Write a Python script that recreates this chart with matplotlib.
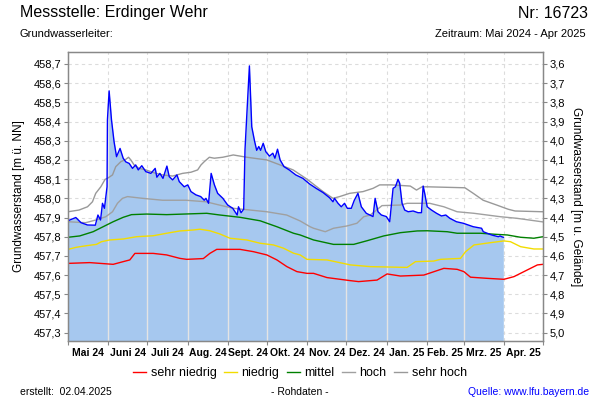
import numpy as np
import pandas as pd
import matplotlib
matplotlib.use("Agg")
import matplotlib.pyplot as plt
import matplotlib.dates as mdates
from matplotlib.ticker import FixedLocator, FuncFormatter

plt.rcParams['font.family'] = ['Liberation Sans', 'DejaVu Sans']

# ---------------- data (days after 2024-05-01, level in m ü. NN) ----------------
start_date = "2024-05-01"

obs_days = [0, 6, 10, 15, 21, 23, 25, 26.5, 28, 30, 30.3, 31.6, 33.4, 35.4, 37.3, 40, 42.4, 44.4,
            47, 49.6, 52, 54, 56.7, 59.8, 63.7, 67, 68.3, 70.6, 73, 76, 77.8, 80.4, 83.7, 85.5,
            89.3, 92, 94.5, 98.3, 102, 104.7, 106, 108, 110, 112.5, 115, 119, 122.7, 126.6, 130,
            131, 133, 135, 136, 137.4, 139.4, 141.2, 143.3, 145, 146.6, 148, 150, 152, 154.8,
            157.4, 159, 161, 163, 166, 170, 175, 180.5, 185.6, 190.7, 196, 201, 203.6, 204.8,
            207.5, 210, 212.5, 214.6, 217.7, 220, 222.8, 225.4, 229.2, 234.4, 236, 238.2, 240.8,
            244.6, 247.2, 249.8, 251.6, 253.6, 254.9, 256.7, 258.7, 261.4, 265.2, 269, 271.6,
            272.9, 274.1, 276, 279.3, 283.2, 287, 290.3, 293.4, 298.5, 303.7, 311.4, 317.8,
            319.1, 325.5, 330.7, 332, 333.2, 334.5]
obs_vals = [457.883, 457.90, 457.873, 457.861, 457.86, 457.913, 457.887, 457.974, 457.948, 458.06,
            458.408, 458.56, 458.41, 458.295, 458.217, 458.26, 458.209, 458.19, 458.182, 458.156,
            458.174, 458.148, 458.17, 458.139, 458.13, 458.156, 458.11, 458.13, 458.104, 458.168,
            458.113, 458.096, 458.122, 458.087, 458.06, 458.07, 458.035, 458.018, 458.009, 457.99,
            458.0, 457.974, 458.13, 458.07, 458.026, 458.0, 457.965, 457.948, 457.913, 457.956,
            457.925, 457.943, 458.252, 458.434, 458.69, 458.373, 458.30, 458.25, 458.27, 458.25,
            458.287, 458.243, 458.22, 458.235, 458.209, 458.256, 458.2, 458.165, 458.148, 458.122,
            458.104, 458.075, 458.052, 458.03, 458.003, 457.982, 458.0, 457.974, 457.956, 457.974,
            457.948, 457.948, 457.99, 458.026, 457.956, 457.922, 457.905, 458.0, 457.93, 457.913,
            457.905, 457.878, 458.052, 458.06, 458.099, 458.078, 457.974, 457.939, 457.93, 457.934,
            457.925, 457.925, 458.064, 458.026, 457.956, 457.939, 457.922, 457.908, 457.913,
            457.896, 457.878, 457.87, 457.852, 457.844, 457.826, 457.809, 457.8, 457.804, 457.8,
            457.797]

sehr_hoch_days = [0, 8.5, 15, 18.8, 21.3, 25.2, 28.5, 30.3, 34.2, 36.7, 40.6, 44.4, 46.5, 48.3,
                  50.8, 54.7, 59.8, 67.5, 72.7, 80.4, 88, 94.5, 99.6, 102.2, 104.7, 108.6, 112.4,
                  118.9, 127, 137.4, 152.8, 163, 173, 183.6, 196, 203.6, 208.7, 216.4, 226.7,
                  234.4, 239.5, 248.5, 263, 267.8, 272, 276, 305, 311.4, 319, 329.4, 338.3, 343.5, 365]
sehr_hoch_vals = [457.93, 457.939, 457.956, 457.982, 458.026, 458.06, 458.099, 458.104, 458.122,
                  458.165, 458.191, 458.203, 458.214, 458.2, 458.174, 458.156, 458.148, 458.13,
                  458.122, 458.116, 458.13, 458.136, 458.148, 458.174, 458.191, 458.214, 458.209,
                  458.214, 458.226, 458.214, 458.2, 458.174, 458.148, 458.10, 458.035, 458.0,
                  458.009, 458.026, 458.035, 458.052, 458.07, 458.07, 458.064, 458.043, 458.06,
                  458.06, 458.055, 458.026, 457.99, 457.965, 457.943, 457.934, 457.93]

hoch_days = [0, 13.6, 21.3, 29, 34.2, 38, 41.9, 45.7, 57.3, 72.7, 90.6, 106, 116.3, 127, 152.8,
             168, 178.4, 186, 188.7, 197.7, 204, 214.4, 222, 227.2, 232.3, 241.3, 255.4, 260.6,
             278, 288.8, 299, 311.9, 332.4, 344.8, 365]
hoch_vals = [457.878, 457.873, 457.887, 457.904, 457.93, 457.974, 458.0, 458.009, 458.0, 457.99,
             457.99, 457.982, 457.965, 457.948, 457.93, 457.913, 457.882, 457.852, 457.844,
             457.826, 457.844, 457.856, 457.87, 457.904, 457.913, 457.962, 457.965, 457.974,
             457.974, 457.956, 457.93, 457.922, 457.904, 457.896, 457.877]

mittel_days = [0, 9, 19.3, 27, 34.7, 42.4, 48.8, 60.4, 75.8, 106.6, 116.8, 132.2, 147.6, 160.5,
               173.3, 178.4, 188.7, 204, 219.5, 229.8, 242.6, 255.4, 268.3, 276, 291.4, 299, 317,
               327.3, 337.6, 347.8, 358, 365]
mittel_vals = [457.797, 457.804, 457.826, 457.852, 457.878, 457.901, 457.915, 457.918, 457.915,
               457.922, 457.913, 457.901, 457.883, 457.852, 457.818, 457.809, 457.783, 457.76,
               457.76, 457.779, 457.804, 457.821, 457.83, 457.831, 457.826, 457.818, 457.818,
               457.813, 457.809, 457.797, 457.792, 457.8]

niedrig_days = [0, 6.5, 14, 21.9, 25.7, 32, 42.4, 52.7, 65.5, 75.8, 86, 96.3, 101.4, 109, 116.8,
                124.5, 137.4, 147.6, 157.9, 165.6, 173.3, 178.4, 183.6, 199, 217, 232.3, 260.6,
                267, 281, 286.2, 301.6, 305.5, 312, 324.7, 335, 340, 347.8, 358, 365]
niedrig_vals = [457.734, 457.745, 457.753, 457.76, 457.774, 457.783, 457.788, 457.8, 457.805,
                457.818, 457.83, 457.835, 457.839, 457.831, 457.814, 457.792, 457.783, 457.766,
                457.757, 457.74, 457.714, 457.705, 457.682, 457.679, 457.653, 457.644, 457.64,
                457.67, 457.673, 457.682, 457.687, 457.722, 457.757, 457.769, 457.778, 457.774,
                457.748, 457.736, 457.736]

sehr_niedrig_days = [0, 16.7, 34.7, 42.4, 47.5, 51.4, 65.5, 75.8, 86, 91.2, 104, 109, 114.3, 132.2,
                     142.5, 152.8, 160.5, 168.2, 175.9, 183.6, 188.7, 199, 217, 223.3, 237.5,
                     245.2, 255.4, 273.4, 288.8, 299, 304.2, 309.3, 322.2, 335, 342.7, 353, 360.7, 365]
sehr_niedrig_vals = [457.661, 457.665, 457.656, 457.67, 457.679, 457.713, 457.713, 457.705,
                     457.687, 457.682, 457.686, 457.713, 457.734, 457.734, 457.722, 457.705,
                     457.679, 457.644, 457.618, 457.609, 457.609, 457.587, 457.571, 457.566,
                     457.574, 457.606, 457.595, 457.6, 457.635, 457.63, 457.618, 457.589,
                     457.583, 457.578, 457.592, 457.627, 457.653, 457.656]

month_labels = ["Mai 24", "Juni 24", "Juli 24", "Aug. 24", "Sept. 24", "Okt. 24", "Nov. 24",
                "Dez. 24", "Jan. 25", "Feb. 25", "Mrz. 25", "Apr. 25"]
left_ticks = [457.3, 457.4, 457.5, 457.6, 457.7, 457.8, 457.9, 458.0, 458.1, 458.2, 458.3,
              458.4, 458.5, 458.6, 458.7]
right_ticks = [3.6, 3.7, 3.8, 3.9, 4.0, 4.1, 4.2, 4.3, 4.4, 4.5, 4.6, 4.7, 4.8, 4.9, 5.0]
ground_level = 462.3  # m ü. NN  (m u. Gelände = ground_level - level)

# ---------------- helpers ----------------
base = pd.Timestamp(start_date)
def to_dates(days):
    return mdates.date2num(base + pd.to_timedelta(np.asarray(days, dtype=float), unit="D"))

# ---------------- figure ----------------
fig = plt.figure(figsize=(6, 4), dpi=100)
ax = fig.add_axes([68 / 600, 1 - 341 / 400, (543 - 68) / 600, (341 - 52) / 400])

ymin, ymax = 457.2565, 458.7625
month_starts = pd.date_range("2024-05-01", "2025-05-01", freq="MS")
ms_num = mdates.date2num(month_starts)
mid_num = (ms_num[:-1] + ms_num[1:]) / 2

ax.set_xlim(ms_num[0], ms_num[-1])
ax.set_ylim(ymin, ymax)

grid_col = "#dcdcdc"
for t in left_ticks:
    ax.axhline(t, color=grid_col, lw=0.8, ls=(0, (3, 3)), zorder=0)
for m in ms_num[1:-1]:
    ax.axvline(m, color=grid_col, lw=0.8, ls=(0, (3, 3)), zorder=0)

ox = to_dates(obs_days)
ax.fill_between(ox, ymin, obs_vals, color="#a6c8ef", lw=0, zorder=1)
# light vertical month separators over the filled area
for m in ms_num[1:-1]:
    if ox[0] <= m <= ox[-1]:
        top = np.interp(m, ox, obs_vals)
        ax.plot([m, m], [ymin, top], color="#e4e4e4", lw=1.0, zorder=1.5)

ax.plot(to_dates(sehr_niedrig_days), sehr_niedrig_vals, color="#ff0000", lw=1.0, zorder=2, label="sehr niedrig")
ax.plot(to_dates(niedrig_days), niedrig_vals, color="#f2dc00", lw=1.0, zorder=2, label="niedrig")
ax.plot(to_dates(mittel_days), mittel_vals, color="#008000", lw=1.0, zorder=2, label="mittel")
ax.plot(to_dates(hoch_days), hoch_vals, color="#a0a0a0", lw=1.0, zorder=2, label="hoch")
ax.plot(to_dates(sehr_hoch_days), sehr_hoch_vals, color="#999999", lw=1.0, zorder=2, label="sehr hoch")
ax.plot(ox, obs_vals, color="#0000ff", lw=1.0, zorder=3)

# axes styling
for s in ax.spines.values():
    s.set_color("#888888")
    s.set_linewidth(1.0)
ax.xaxis.set_major_locator(FixedLocator(ms_num))
ax.xaxis.set_major_formatter(FuncFormatter(lambda v, p: ""))
ax.xaxis.set_minor_locator(FixedLocator(mid_num))
ax.xaxis.set_minor_formatter(FuncFormatter(lambda v, p: month_labels[int(np.argmin(np.abs(mid_num - v)))]))
ax.tick_params(axis="x", which="major", length=3, color="#888888")
ax.tick_params(axis="x", which="minor", length=0, labelsize=7.5, pad=5)
for lab in ax.xaxis.get_minorticklabels():
    lab.set_fontweight("bold")
ax.set_yticks(left_ticks)
ax.set_yticklabels([f"{v:.1f}".replace(".", ",") for v in left_ticks])
ax.tick_params(axis="y", length=3, color="#888888", labelsize=8, pad=2)
ax.set_ylabel("Grundwasserstand [m ü. NN]", fontsize=8.5, labelpad=6)

ax2 = ax.twinx()
ax2.set_ylim(ground_level - ymin, ground_level - ymax)
ax2.set_yticks(right_ticks)
ax2.set_yticklabels([f"{v:.1f}".replace(".", ",") for v in right_ticks])
ax2.tick_params(axis="y", length=3, color="#888888", labelsize=8, pad=2)
for s in ax2.spines.values():
    s.set_color("#888888")
ax2.set_ylabel("Grundwasserstand [m u. Gelände]", fontsize=8.5, rotation=-90, labelpad=12)

# texts
fig.text(20 / 600, 1 - 13 / 400, "Messstelle: Erdinger Wehr", fontsize=11.5, ha="left", va="center")
fig.text(588 / 600, 1 - 13 / 400, "Nr: 16723", fontsize=11.5, ha="right", va="center")
fig.text(20 / 600, 1 - 34 / 400, "Grundwasserleiter:", fontsize=8, ha="left", va="center")
fig.text(586 / 600, 1 - 34 / 400, "Zeitraum: Mai 2024 - Apr 2025", fontsize=8, ha="right", va="center")
fig.text(20 / 600, 1 - 392 / 400, "erstellt:  02.04.2025", fontsize=7.5, ha="left", va="center")
fig.text(300 / 600, 1 - 392 / 400, "- Rohdaten -", fontsize=7.5, ha="center", va="center")
fig.text(589 / 600, 1 - 392 / 400, "Quelle: www.lfu.bayern.de", fontsize=7.5, ha="right", va="center", color="#0000ff")

handles, labels = ax.get_legend_handles_labels()
fig.legend(handles, labels, loc="center", bbox_to_anchor=(300 / 600, 1 - 373 / 400), ncol=5,
           frameon=False, fontsize=9, handlelength=1.05, handletextpad=0.35, columnspacing=0.6,
           borderpad=0.1)

fig.savefig("out.png", dpi=100)
